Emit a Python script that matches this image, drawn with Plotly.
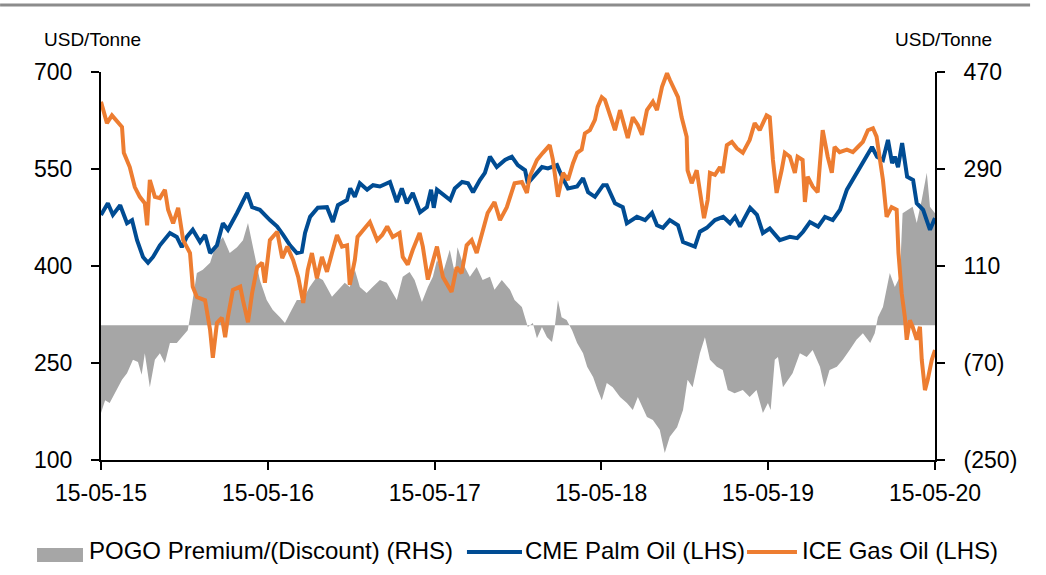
import plotly.graph_objects as go

# ---------------- data ----------------
palm_dates = ["2015-05-15","2015-05-30","2015-06-10","2015-06-26","2015-07-11","2015-07-22","2015-08-02","2015-08-15",
 "2015-08-26","2015-09-06","2015-09-21","2015-10-13","2015-10-28","2015-11-08","2015-11-19","2015-12-02","2015-12-18",
 "2015-12-29","2016-01-09","2016-01-24","2016-02-06","2016-02-17","2016-03-08","2016-03-30","2016-04-10","2016-04-27",
 "2016-05-19","2016-06-04","2016-06-17","2016-07-02","2016-07-17","2016-07-28","2016-08-04","2016-08-15","2016-09-01",
 "2016-09-21","2016-10-04","2016-10-15","2016-11-04","2016-11-11","2016-11-21","2016-12-02","2016-12-18","2016-12-31",
 "2017-01-15","2017-02-06","2017-02-21","2017-03-04","2017-03-15","2017-03-28","2017-04-13","2017-04-28","2017-05-07",
 "2017-05-13","2017-05-20","2017-06-07","2017-06-18","2017-06-28","2017-07-14","2017-07-27","2017-08-07","2017-08-22",
 "2017-09-02","2017-09-13","2017-09-28","2017-10-16","2017-10-31","2017-11-13","2017-11-29","2017-12-05","2017-12-21",
 "2018-01-05","2018-01-18","2018-02-07","2018-02-18","2018-03-03","2018-03-23","2018-04-05","2018-04-16","2018-05-01",
 "2018-05-19","2018-05-27","2018-06-14","2018-07-01","2018-07-10","2018-08-01","2018-08-19","2018-09-03","2018-09-14",
 "2018-09-27","2018-10-12","2018-10-30","2018-11-10","2018-11-30","2018-12-06","2018-12-17","2019-01-01","2019-01-19",
 "2019-02-06","2019-02-21","2019-03-04","2019-03-15","2019-04-06","2019-04-21","2019-05-04","2019-05-19","2019-06-10",
 "2019-07-02","2019-07-18","2019-07-31","2019-08-15","2019-09-02","2019-09-17","2019-10-04","2019-10-20","2019-11-04",
 "2019-11-17","2019-11-28","2019-12-14","2019-12-29","2020-01-09","2020-01-22","2020-02-02","2020-02-11","2020-02-17",
 "2020-02-24","2020-03-04","2020-03-15","2020-03-28","2020-04-05","2020-04-19","2020-05-04","2020-05-15"]
palm_values = [479,497,479,494,466,471,440,414,405,414,432,451,445,429,445,456,437,448,420,432,466,456,482,513,491,487,
 471,461,448,432,420,422,451,476,490,491,468,494,502,520,507,528,518,525,523,530,499,520,497,513,483,491,518,
 490,518,507,502,520,530,528,514,533,544,569,553,564,569,556,548,528,541,553,551,556,538,520,523,536,514,507,
 525,525,497,491,466,476,471,482,463,459,471,463,437,432,430,453,459,471,476,466,476,461,490,479,451,458,440,
 445,443,453,468,461,476,471,487,518,533,548,564,584,569,564,595,559,569,553,590,538,533,497,487,456,474]

gas_dates = ["2015-05-15","2015-05-28","2015-06-08","2015-06-19","2015-06-30","2015-07-04","2015-07-17","2015-07-28",
 "2015-08-08","2015-08-19","2015-08-24","2015-08-30","2015-09-10","2015-09-21","2015-10-02","2015-10-09","2015-10-20",
 "2015-10-31","2015-11-11","2015-11-26","2015-12-02","2015-12-11","2015-12-29","2016-01-09","2016-01-15","2016-01-24",
 "2016-02-04","2016-02-11","2016-02-17","2016-02-28","2016-03-15","2016-03-21","2016-04-01","2016-04-10","2016-04-21",
 "2016-05-02","2016-05-08","2016-05-19","2016-06-04","2016-06-15","2016-06-26","2016-07-09","2016-07-20","2016-07-31",
 "2016-08-10","2016-08-19","2016-08-30","2016-09-10","2016-09-21","2016-10-02","2016-10-13","2016-10-24","2016-11-04",
 "2016-11-10","2016-11-21","2016-11-27","2016-12-13","2016-12-24","2017-01-09","2017-01-20","2017-01-31","2017-02-12",
 "2017-02-27","2017-03-06","2017-03-17","2017-03-28","2017-04-12","2017-04-19","2017-04-30","2017-05-11","2017-05-20",
 "2017-06-02","2017-06-21","2017-07-02","2017-07-13","2017-07-24","2017-08-04","2017-08-15","2017-08-28","2017-09-08",
 "2017-09-23","2017-10-05","2017-10-20","2017-10-31","2017-11-06","2017-11-22","2017-12-03","2017-12-09","2017-12-25",
 "2018-01-07","2018-01-22","2018-01-29","2018-02-09","2018-02-20","2018-03-03","2018-03-14","2018-03-23","2018-04-02",
 "2018-04-09","2018-04-20","2018-05-01","2018-05-07","2018-05-16","2018-05-23","2018-06-03","2018-06-14","2018-06-25",
 "2018-07-06","2018-07-12","2018-07-23","2018-08-03","2018-08-12","2018-08-23","2018-09-05","2018-09-14","2018-09-25",
 "2018-10-06","2018-10-12","2018-10-23","2018-10-30","2018-11-07","2018-11-18","2018-11-20","2018-11-29","2018-12-10",
 "2018-12-17","2018-12-26","2019-01-03","2019-01-08","2019-01-19","2019-01-30","2019-02-05","2019-02-14","2019-02-25",
 "2019-03-08","2019-03-21","2019-04-05","2019-04-16","2019-04-27","2019-05-12","2019-05-19","2019-05-26","2019-06-03",
 "2019-06-14","2019-06-21","2019-07-02","2019-07-13","2019-07-19","2019-07-30","2019-08-04","2019-08-10","2019-08-21",
 "2019-09-01","2019-09-06","2019-09-12","2019-09-23","2019-10-02","2019-10-08","2019-10-19","2019-11-04","2019-11-17",
 "2019-11-28","2019-12-09","2019-12-20","2019-12-31","2020-01-08","2020-01-15","2020-01-22","2020-01-30","2020-02-10",
 "2020-02-21","2020-02-25","2020-03-03","2020-03-10","2020-03-14","2020-03-21","2020-03-27","2020-04-05","2020-04-12",
 "2020-04-16","2020-04-23","2020-04-29","2020-05-08","2020-05-15"]
gas_values = [654,621,633,623,615,575,553,522,507,497,463,533,507,505,518,487,466,490,440,420,368,352,347,301,258,312,
 320,290,321,363,368,347,313,358,398,405,374,440,453,412,430,409,383,343,394,420,381,414,391,420,448,430,432,
 371,409,445,459,468,440,448,461,445,451,414,402,425,451,430,379,409,430,383,360,398,389,432,440,420,456,482,
 499,471,491,513,528,530,513,538,564,575,587,564,507,544,533,559,575,580,605,610,626,646,661,657,633,610,641,
 615,598,630,618,603,641,654,641,677,698,688,672,661,630,600,548,528,548,513,474,502,544,541,553,544,587,592,
 582,575,595,621,610,633,630,564,513,548,575,569,544,569,564,499,538,523,514,559,610,569,544,584,576,580,576,
 584,592,610,613,600,564,533,476,491,487,420,358,321,286,316,306,286,306,255,208,224,255,270]

pogo_dates = ["2015-05-15","2015-05-24","2015-06-03","2015-06-19","2015-06-30","2015-07-11","2015-07-24","2015-08-04",
 "2015-08-12","2015-08-19","2015-08-30","2015-09-10","2015-09-21","2015-10-02","2015-10-13","2015-10-28","2015-11-08",
 "2015-11-21","2015-11-26","2015-12-11","2015-12-24","2016-01-09","2016-01-20","2016-01-31","2016-02-06","2016-02-21",
 "2016-03-08","2016-03-21","2016-04-01","2016-04-12","2016-04-27","2016-05-12","2016-05-25","2016-06-10","2016-06-21",
 "2016-07-02","2016-07-17","2016-07-30","2016-08-14","2016-08-30","2016-09-12","2016-10-02","2016-10-15","2016-10-30",
 "2016-11-10","2016-11-21","2016-12-02","2016-12-17","2016-12-30","2017-01-15","2017-01-30","2017-02-21","2017-03-06",
 "2017-03-21","2017-04-01","2017-04-17","2017-04-30","2017-05-11","2017-05-20","2017-06-02","2017-06-17","2017-06-28",
 "2017-07-04","2017-07-15","2017-07-31","2017-08-15","2017-08-28","2017-09-13","2017-09-23","2017-10-09","2017-10-27",
 "2017-11-06","2017-11-22","2017-12-05","2017-12-16","2017-12-25","2018-01-05","2018-01-16","2018-01-27","2018-02-02",
 "2018-02-09","2018-02-17","2018-02-28","2018-03-12","2018-03-23","2018-04-05","2018-04-14","2018-04-27","2018-05-07",
 "2018-05-16","2018-05-27","2018-06-09","2018-06-25","2018-07-10","2018-07-23","2018-08-03","2018-08-23","2018-09-05",
 "2018-09-20","2018-10-01","2018-10-12","2018-10-28","2018-11-10","2018-11-20","2018-12-01","2018-12-17","2018-12-28",
 "2019-01-08","2019-01-23","2019-02-05","2019-02-16","2019-03-03","2019-03-21","2019-04-05","2019-04-20","2019-05-04",
 "2019-05-15","2019-05-21","2019-05-30","2019-06-06","2019-06-17","2019-06-28","2019-07-08","2019-07-24","2019-08-08",
 "2019-08-21","2019-09-06","2019-09-16","2019-09-27","2019-10-13","2019-10-26","2019-11-10","2019-11-25","2019-12-09",
 "2019-12-25","2020-01-04","2020-01-11","2020-01-22","2020-01-30","2020-02-06","2020-02-17","2020-02-28","2020-03-05",
 "2020-03-16","2020-03-27","2020-04-05","2020-04-16","2020-04-27","2020-05-04","2020-05-15"]
pogo_values = [-163,-139,-144,-120,-101,-89,-64,-68,-92,-52,-115,-64,-52,-70,-33,-33,-22,-9,15,97,103,116,145,158,164,
 134,145,158,190,145,84,47,29,15,4,23,47,47,71,90,84,53,66,79,71,103,71,60,71,84,79,47,90,99,84,43,71,90,121,
 97,140,97,145,116,90,108,84,90,66,84,66,47,34,-3,4,-24,-3,-22,-31,-3,47,15,10,-9,-33,-52,-77,-96,-120,-139,
 -107,-115,-133,-144,-157,-133,-170,-176,-194,-237,-207,-189,-157,-101,-115,-52,-22,-64,-77,-83,-120,-126,-120,
 -133,-120,-163,-144,-157,-64,-59,-115,-101,-89,-52,-59,-46,-77,-115,-83,-77,-64,-46,-27,-15,-33,-15,15,34,71,
 97,71,90,208,214,220,190,233,283,220,208]

x_ticks = ["2015-05-15","2016-05-15","2017-05-15","2018-05-15","2019-05-15","2020-05-15"]
lhs_ticks = [100, 250, 400, 550, 700]
rhs_ticks = [-250, -70, 110, 290, 470]
rhs_ticktext = ["(250)", "(70)", "110", "290", "470"]

series_names = ["POGO Premium/(Discount) (RHS)", "CME Palm Oil (LHS)", "ICE Gas Oil (LHS)"]
series_colors = ["#a6a6a6", "#004c93", "#ed7d31"]

# ---------------- figure ----------------
FONT = "Liberation Sans, Arial, sans-serif"
fig = go.Figure()

fig.add_trace(go.Scatter(x=pogo_dates, y=pogo_values, name=series_names[0],
                         mode="lines", fill="tozeroy", fillcolor=series_colors[0],
                         line=dict(width=0, color=series_colors[0]), yaxis="y", showlegend=False))
fig.add_trace(go.Scatter(x=palm_dates, y=palm_values, name=series_names[1], mode="lines",
                         line=dict(color=series_colors[1], width=4), yaxis="y2", showlegend=False))
fig.add_trace(go.Scatter(x=gas_dates, y=gas_values, name=series_names[2], mode="lines",
                         line=dict(color=series_colors[2], width=4), yaxis="y2", showlegend=False))

axis_common = dict(showgrid=False, zeroline=False, showline=True, linecolor="black", linewidth=2,
                   ticks="outside", ticklen=8, tickwidth=2, tickcolor="black",
                   tickfont=dict(size=23), automargin=False)

# legend drawn as shapes + text (single row, like the reference)
LEG_FS = 24
shapes = [
    dict(type="line", xref="paper", yref="paper", x0=-0.121, x1=1.114,
         y0=1.1727, y1=1.1727, line=dict(color="#8c8c8c", width=3)),
    dict(type="rect", xref="paper", yref="paper", x0=-0.0767, x1=-0.0216, y0=-0.2629, y1=-0.2268,
         fillcolor=series_colors[0], line=dict(width=0)),
    dict(type="line", xref="paper", yref="paper", x0=0.4388, x1=0.5048, y0=-0.2371, y1=-0.2371,
         line=dict(color=series_colors[1], width=4)),
    dict(type="line", xref="paper", yref="paper", x0=0.7746, x1=0.8345, y0=-0.2371, y1=-0.2371,
         line=dict(color=series_colors[2], width=4)),
]
annotations = [
    dict(text="USD/Tonne", xref="paper", yref="paper", x=-0.0096, y=1.0825,
         xanchor="center", yanchor="middle", showarrow=False, font=dict(size=19)),
    dict(text="USD/Tonne", xref="paper", yref="paper", x=1.0096, y=1.0825,
         xanchor="center", yanchor="middle", showarrow=False, font=dict(size=19)),
]
for name, xpos in zip(series_names, [-0.0170, 0.5060, 0.8380]):
    annotations.append(dict(text=name, xref="paper", yref="paper", x=xpos, y=-0.232,
                            xanchor="left", yanchor="middle", showarrow=False,
                            font=dict(size=LEG_FS)))

fig.update_layout(
    width=1046, height=575,
    margin=dict(l=101, r=111, t=72, b=115, pad=0, autoexpand=False),
    paper_bgcolor="white", plot_bgcolor="white",
    font=dict(family=FONT, size=23, color="black"),
    showlegend=False,
    xaxis=dict(type="date", range=["2015-05-15", "2020-05-15"], tickvals=x_ticks,
               tickformat="%d-%m-%y", ticklabelstandoff=3, **axis_common),
    yaxis=dict(range=[-250, 470], side="right", tickvals=rhs_ticks, ticktext=rhs_ticktext,
               ticklabelstandoff=14, **axis_common),
    yaxis2=dict(range=[100, 700], side="left", overlaying="y", anchor="x", tickvals=lhs_ticks,
                ticklabelstandoff=14, **axis_common),
    shapes=shapes,
    annotations=annotations,
)

fig.write_html("out.html", config={"displayModeBar": False},
               post_script="document.body.style.margin='0';document.body.style.overflow='hidden';")
